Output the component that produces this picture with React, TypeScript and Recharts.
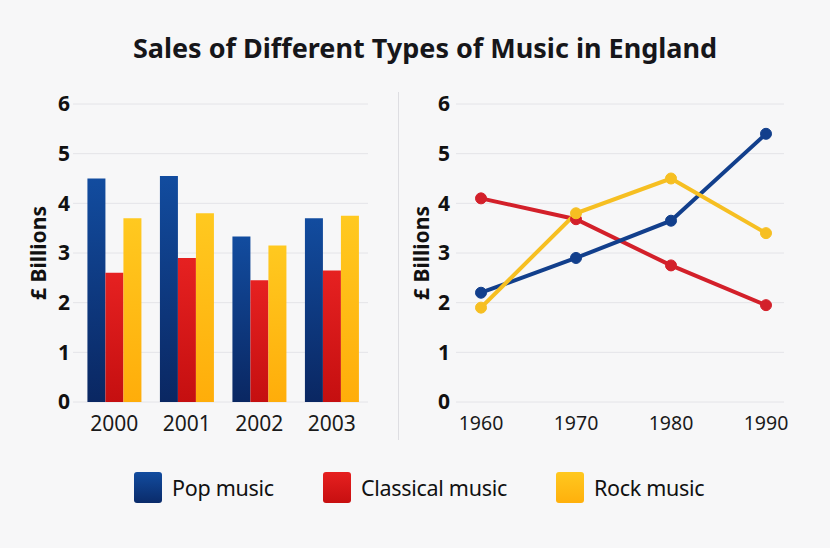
import { BarChart, Bar, LineChart, Line, XAxis, YAxis, CartesianGrid } from 'recharts'

const barYears = ['2000', '2001', '2002', '2003']
const barPop = [4.5, 4.55, 3.33, 3.7]
const barClassical = [2.6, 2.9, 2.45, 2.65]
const barRock = [3.7, 3.8, 3.15, 3.75]

const lineYears = ['1960', '1970', '1980', '1990']
const linePop = [2.2, 2.9, 3.65, 5.4]
const lineClassical = [4.1, 3.68, 2.75, 1.95]
const lineRock = [1.9, 3.8, 4.5, 3.4]

const yTicks = [0, 1, 2, 3, 4, 5, 6]

const SERIES = [
  { key: 'pop', name: 'Pop music', swatch: 'linear-gradient(#124c9f, #0a2b6a)', line: '#123f8c', left: 134 },
  { key: 'classical', name: 'Classical music', swatch: 'linear-gradient(#e62020, #c70f10)', line: '#d3202a', left: 323 },
  { key: 'rock', name: 'Rock music', swatch: 'linear-gradient(#ffc81f, #ffb00c)', line: '#f6bf22', left: 556 },
]

const FONT = '"Noto Sans", "Open Sans", sans-serif'

const barData = barYears.map((year, i) => ({
  year,
  pop: barPop[i],
  classical: barClassical[i],
  rock: barRock[i],
}))

const lineData = lineYears.map((year, i) => ({
  year,
  pop: linePop[i],
  classical: lineClassical[i],
  rock: lineRock[i],
}))

const yTick = { fontSize: 21, fontWeight: 700, fill: '#111', fontFamily: FONT }
const yLabel = {
  value: '£ Billions',
  angle: -90,
  position: 'insideLeft' as const,
  offset: 6,
  style: { textAnchor: 'middle', fontSize: 21, fontWeight: 700, fill: '#111', fontFamily: FONT },
}

export default function App() {
  return (
    <div
      style={{
        position: 'absolute',
        left: 0,
        top: 0,
        width: 830,
        height: 548,
        background: '#f7f7f8',
        fontFamily: FONT,
        overflow: 'hidden',
      }}
    >
      <div
        style={{
          position: 'absolute',
          top: 29,
          width: 850,
          textAlign: 'center',
          fontSize: 27,
          fontWeight: 700,
          color: '#16161a',
        }}
      >
        Sales of Different Types of Music in England
      </div>

      <div style={{ position: 'absolute', left: 0, top: 0 }}>
        <BarChart
          width={400}
          height={450}
          data={barData}
          margin={{ top: 104, right: 32, left: 33, bottom: 18 }}
          barCategoryGap="13%"
          barGap={0}
        >
          <defs>
            <linearGradient id="gPop" x1="0" y1="0" x2="0" y2="1">
              <stop offset="0%" stopColor="#124c9f" />
              <stop offset="100%" stopColor="#0a2762" />
            </linearGradient>
            <linearGradient id="gClassical" x1="0" y1="0" x2="0" y2="1">
              <stop offset="0%" stopColor="#e62121" />
              <stop offset="100%" stopColor="#c50f10" />
            </linearGradient>
            <linearGradient id="gRock" x1="0" y1="0" x2="0" y2="1">
              <stop offset="0%" stopColor="#ffc920" />
              <stop offset="100%" stopColor="#ffad0a" />
            </linearGradient>
          </defs>
          <CartesianGrid vertical={false} stroke="#e4e4e8" />
          <XAxis
            dataKey="year"
            axisLine={false}
            tickLine={false}
            tick={{ fontSize: 21, fill: '#1a1a1a', fontFamily: FONT }}
            tickMargin={8}
            height={30}
            padding={{ left: 5, right: 0 }}
          />
          <YAxis
            domain={[0, 6]}
            ticks={yTicks}
            axisLine={false}
            tickLine={false}
            tickSize={0}
            tickMargin={3}
            tick={yTick}
            width={40}
            label={yLabel}
          />
          <Bar dataKey="pop" name="Pop music" fill="url(#gPop)" isAnimationActive={false} />
          <Bar dataKey="classical" name="Classical music" fill="url(#gClassical)" isAnimationActive={false} />
          <Bar dataKey="rock" name="Rock music" fill="url(#gRock)" isAnimationActive={false} />
        </BarChart>
      </div>

      <div
        style={{
          position: 'absolute',
          left: 398,
          top: 92,
          width: 1,
          height: 348,
          background: '#dedee2',
        }}
      />

      <div style={{ position: 'absolute', left: 400, top: 0 }}>
        <LineChart
          width={430}
          height={450}
          data={lineData}
          margin={{ top: 104, right: 46, left: 16, bottom: 18 }}
        >
          <CartesianGrid vertical={false} stroke="#e4e4e8" />
          <XAxis
            dataKey="year"
            axisLine={false}
            tickLine={false}
            tick={{ fontSize: 19.5, fill: '#1a1a1a', fontFamily: FONT }}
            tickMargin={8}
            height={30}
            padding={{ left: 25, right: 18 }}
          />
          <YAxis
            domain={[0, 6]}
            ticks={yTicks}
            axisLine={false}
            tickLine={false}
            tickSize={0}
            tickMargin={6}
            tick={yTick}
            width={40}
            label={yLabel}
          />
          <Line
            dataKey="classical"
            name="Classical music"
            stroke={SERIES[1].line}
            strokeWidth={4}
            dot={{ r: 5.5, fill: SERIES[1].line, stroke: SERIES[1].line, strokeWidth: 1 }}
            isAnimationActive={false}
          />
          <Line
            dataKey="pop"
            name="Pop music"
            stroke={SERIES[0].line}
            strokeWidth={4}
            dot={{ r: 5.5, fill: SERIES[0].line, stroke: SERIES[0].line, strokeWidth: 1 }}
            isAnimationActive={false}
          />
          <Line
            dataKey="rock"
            name="Rock music"
            stroke={SERIES[2].line}
            strokeWidth={4}
            dot={{ r: 5.5, fill: SERIES[2].line, stroke: SERIES[2].line, strokeWidth: 1 }}
            isAnimationActive={false}
          />
        </LineChart>
      </div>

      {SERIES.map((s) => (
        <div
          key={s.key}
          style={{
            position: 'absolute',
            top: 471,
            left: s.left,
            height: 32,
            display: 'flex',
            alignItems: 'center',
          }}
        >
          <div style={{ width: 28, height: 31, borderRadius: 3, background: s.swatch, marginRight: 10 }} />
          <span style={{ fontSize: 21.5, color: '#111', letterSpacing: -0.3 }}>{s.name}</span>
        </div>
      ))}
    </div>
  )
}
